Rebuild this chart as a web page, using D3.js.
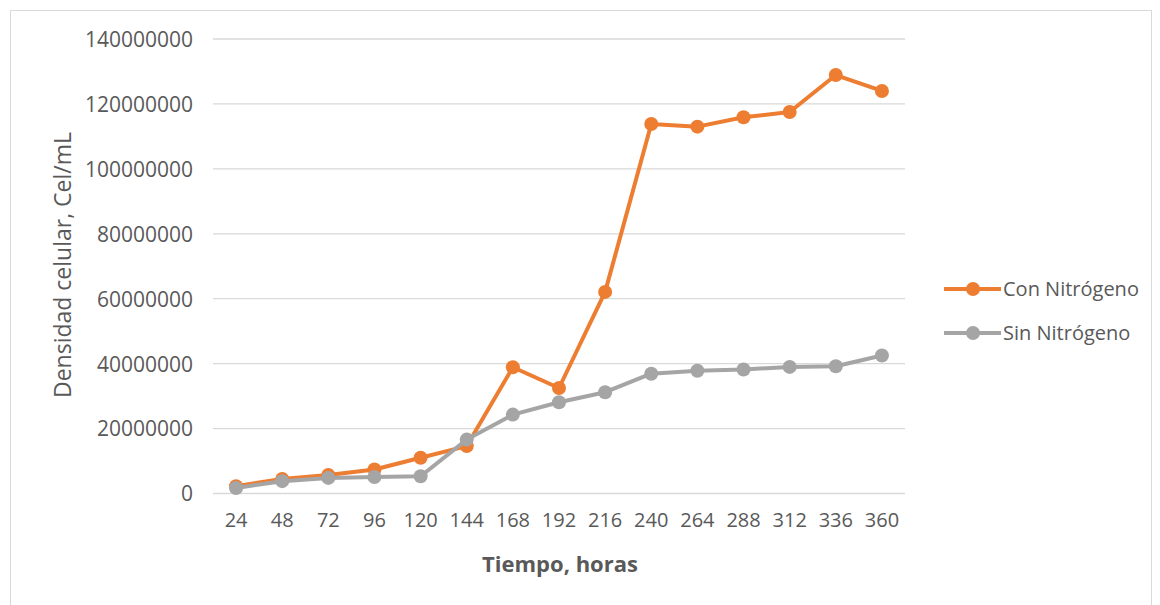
<!DOCTYPE html>
<html>
<head>
<meta charset="utf-8">
<script src="https://cdn.jsdelivr.net/npm/d3@7"></script>
<style>
  body { margin: 0; background: #fff; }
  text { font-family: "Open Sans", "Noto Sans", sans-serif; fill: #595959; }
</style>
</head>
<body>
<div id="chart"></div>
<script>
// horas
var horas = [24, 48, 72, 96, 120, 144, 168, 192, 216, 240, 264, 288, 312, 336, 360];
// Cel/mL
var conNitrogeno = [2260000, 4500000, 5700000, 7400000, 11000000, 14600000, 38900000, 32500000,
  62100000, 113800000, 113000000, 115900000, 117500000, 128900000, 124000000];
var sinNitrogeno = [1700000, 3800000, 4800000, 5100000, 5300000, 16600000, 24300000, 28100000,
  31200000, 36900000, 37800000, 38200000, 39000000, 39200000, 42500000];
var yTicks = [0, 20000000, 40000000, 60000000, 80000000, 100000000, 120000000, 140000000];
var seriesNames = ['Con Nitrógeno', 'Sin Nitrógeno'];
var colores = ['#ED7D31', '#A5A5A5'];

var W = 1160, H = 605;
var plotLeft = 213, plotRight = 905, plotTop = 39, plotBottom = 493.5;

var svg = d3.select('#chart').append('svg')
  .attr('width', W).attr('height', H);

svg.append('rect')
  .attr('x', 10.5).attr('y', 10.5).attr('width', 1141).attr('height', 600)
  .attr('fill', '#fff').attr('stroke', '#D9D9D9');

var x = d3.scaleBand().domain(horas).range([plotLeft, plotRight]);
var y = d3.scaleLinear().domain([0, 140000000]).range([plotBottom, plotTop]);

// gridlines
svg.append('g').selectAll('line').data(yTicks).enter().append('line')
  .attr('x1', plotLeft).attr('x2', plotRight)
  .attr('y1', function(d) { return y(d); }).attr('y2', function(d) { return y(d); })
  .attr('stroke', '#D9D9D9').attr('stroke-width', 1.3);

// y axis
var yAxis = svg.append('g').attr('transform', 'translate(' + (plotLeft - 20) + ',0)')
  .call(d3.axisLeft(y).tickValues(yTicks).tickSize(0).tickPadding(0).tickFormat(d3.format('d')));
yAxis.select('.domain').remove();
yAxis.selectAll('text').style('font-size', '21px').attr('dy', '0.35em');

// x axis
var xAxis = svg.append('g').attr('transform', 'translate(0,' + plotBottom + ')')
  .call(d3.axisBottom(x).tickSize(0).tickPadding(19));
xAxis.select('.domain').remove();
xAxis.selectAll('text').style('font-size', '20px');

// titles
svg.append('text')
  .attr('x', 560).attr('y', 572)
  .attr('text-anchor', 'middle')
  .style('font-size', '22px').style('font-weight', 'bold')
  .text('Tiempo, horas');

svg.append('text')
  .attr('transform', 'translate(71,265) rotate(-90)')
  .attr('text-anchor', 'middle')
  .style('font-size', '23px')
  .text('Densidad celular, Cel/mL');

var cx = function(d, i) { return x(horas[i]) + x.bandwidth() / 2; };
var line = d3.line().x(cx).y(function(d) { return y(d); });

[conNitrogeno, sinNitrogeno].forEach(function(vals, k) {
  var g = svg.append('g');
  g.append('path').datum(vals)
    .attr('d', line)
    .attr('fill', 'none').attr('stroke', colores[k])
    .attr('stroke-width', 4).attr('stroke-linejoin', 'round');
  g.selectAll('circle').data(vals).enter().append('circle')
    .attr('cx', cx).attr('cy', function(d) { return y(d); })
    .attr('r', 7).attr('fill', colores[k]);
});

// legend
var leg = svg.append('g').selectAll('g').data(seriesNames).enter().append('g')
  .attr('transform', function(d, i) { return 'translate(944,' + (289 + i * 44) + ')'; });
leg.append('line').attr('x1', 0).attr('x2', 57)
  .attr('stroke', function(d, i) { return colores[i]; }).attr('stroke-width', 4);
leg.append('circle').attr('cx', 29).attr('r', 7)
  .attr('fill', function(d, i) { return colores[i]; });
leg.append('text').attr('x', 59).attr('dy', '0.35em')
  .style('font-size', '20px')
  .text(function(d) { return d; });
</script>
</body>
</html>
